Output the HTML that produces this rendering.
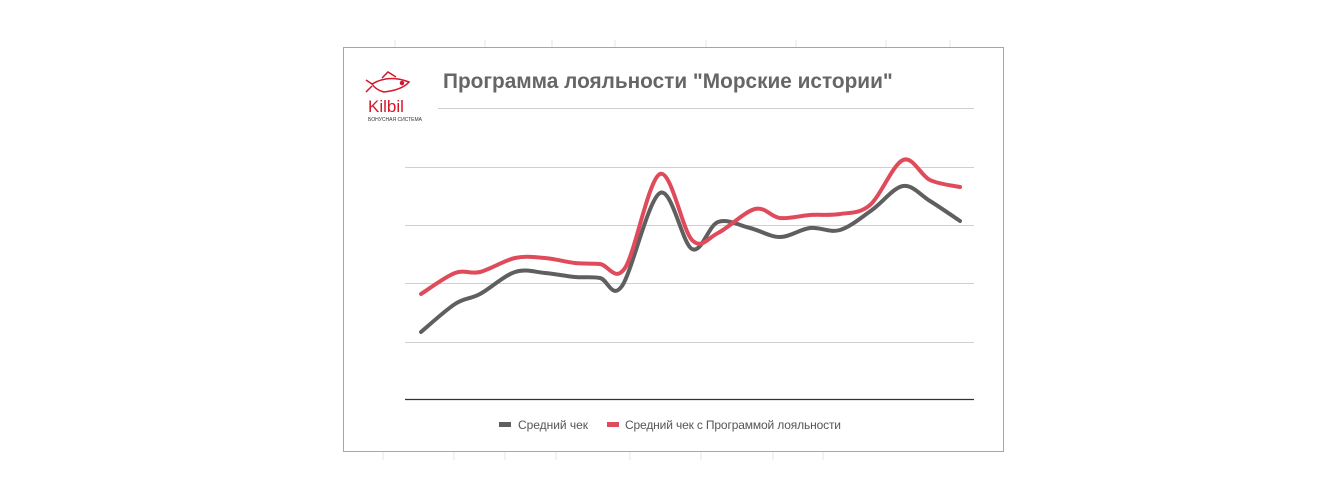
<!DOCTYPE html>
<html><head><meta charset="utf-8"><style>
html,body{margin:0;padding:0;background:#fff;}
body{width:1340px;height:501px;overflow:hidden;position:relative;font-family:"Liberation Sans",sans-serif;}
</style></head><body>
<svg id="s" width="1340" height="501" xmlns="http://www.w3.org/2000/svg" style="position:absolute;left:0;top:0">
<g stroke="#e6e6e6" stroke-width="1">
<line x1="395" y1="40" x2="395" y2="47"/><line x1="485" y1="40" x2="485" y2="47"/><line x1="552" y1="40" x2="552" y2="47"/><line x1="615" y1="40" x2="615" y2="47"/><line x1="706" y1="40" x2="706" y2="47"/><line x1="796" y1="40" x2="796" y2="47"/><line x1="886" y1="40" x2="886" y2="47"/><line x1="950" y1="40" x2="950" y2="47"/>
<line x1="383" y1="452" x2="383" y2="460"/><line x1="454" y1="452" x2="454" y2="460"/><line x1="505" y1="452" x2="505" y2="460"/><line x1="556" y1="452" x2="556" y2="460"/><line x1="630" y1="452" x2="630" y2="460"/><line x1="701" y1="452" x2="701" y2="460"/><line x1="773" y1="452" x2="773" y2="460"/><line x1="823" y1="452" x2="823" y2="460"/>
</g>
<rect x="343.5" y="47.5" width="660" height="404" fill="#fff" stroke="#a6a6a6"/>
<g stroke="#d0d0d0" stroke-width="1">
<line x1="438" y1="108.5" x2="974" y2="108.5"/>
<line x1="405" y1="167.5" x2="974" y2="167.5"/>
<line x1="405" y1="225.5" x2="974" y2="225.5"/>
<line x1="405" y1="283.5" x2="974" y2="283.5"/>
<line x1="405" y1="342.5" x2="974" y2="342.5"/>
</g>
<line x1="405" y1="399.5" x2="974" y2="399.5" stroke="#333" stroke-width="1.3"/>
<text x="443" y="88" font-size="20.8" font-weight="bold" fill="#666">Программа лояльности "Морские истории"</text>
<g fill="none" stroke="#d3182b" stroke-width="1.5">
<path d="M372 84 Q389 74 409 82 Q402 90 384 92 Q376 90 372 84 Z"/>
<path d="M372 84 L366 80 M372 86 L366 92 M382 78 L388 72 L396 77"/>
<circle cx="402" cy="83" r="1.5" fill="#d3182b"/>
</g>
<text x="368" y="112" font-size="17" fill="#d3182b">Kilbil</text>
<text x="368" y="121" font-size="5" fill="#333">БОНУСНАЯ СИСТЕМА</text>
<path id="g" fill="none" stroke="#5f5f5f" stroke-width="4" stroke-linecap="round"/>
<path id="r" fill="none" stroke="#e04b5c" stroke-width="4" stroke-linecap="round"/>
<rect x="499" y="422" width="12" height="5" fill="#5f5f5f"/>
<text x="518" y="429" font-size="12" fill="#555" textLength="70">Средний чек</text>
<rect x="607" y="422" width="12" height="5" fill="#e04b5c"/>
<text x="625" y="429" font-size="12" fill="#555" textLength="216">Средний чек с Программой лояльности</text>
</svg>
<script>
function path(p){var d="M"+p[0][0]+" "+p[0][1];for(var i=0;i<p.length-1;i++){var a=p[i-1]||p[i],b=p[i],c=p[i+1],e=p[i+2]||c;var t=6;d+=" C"+(b[0]+(c[0]-a[0])/t)+" "+(b[1]+(c[1]-a[1])/t)+" "+(c[0]-(e[0]-b[0])/t)+" "+(c[1]-(e[1]-b[1])/t)+" "+c[0]+" "+c[1];}return d;}
var g=[[421,332],[455,304],[480,294],[515,272],[545,273],[575,277],[600,278],[622,286],[660,193],[692,249],[718,222],[750,228],[780,237],[810,228],[840,230],[872,210],[903,186],[930,201],[960,221]];
var r=[[421,294],[455,273],[480,272],[515,258],[545,258],[575,263],[600,264],[625,268],[660,174],[692,240],[718,233],[755,209],[780,218],[810,215],[840,214],[870,205],[903,160],[930,180],[960,187]];
document.getElementById("g").setAttribute("d",path(g));
document.getElementById("r").setAttribute("d",path(r));
</script>
</body></html>
